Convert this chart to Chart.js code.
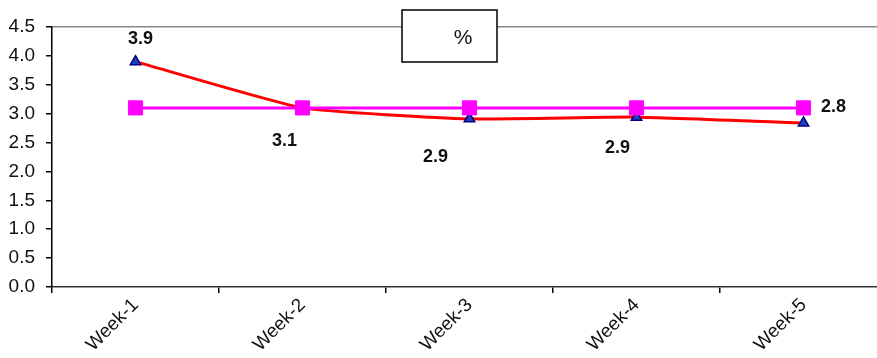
<!DOCTYPE html>
<html>
<head>
<meta charset="utf-8">
<script src="https://cdn.jsdelivr.net/npm/chart.js@4"></script>
<style>
  html, body { margin: 0; padding: 0; background: #fff; overflow: hidden; }
  canvas { display: block; }
</style>
</head>
<body>
<canvas id="weekChart" width="898" height="358"></canvas>
<script>
const weeks = ['Week-1', 'Week-2', 'Week-3', 'Week-4', 'Week-5'];
const actualValues = [3.9, 3.1, 2.91, 2.94, 2.84];
const targetValues = [3.1, 3.1, 3.1, 3.1, 3.1];
const pointLabels = ['3.9', '3.1', '2.9', '2.9', '2.8'];
const labelOffsets = [[5, -23], [-18, 33], [-34, 38], [-19, 31], [30, -16]];
const yTicks = [0, 0.5, 1, 1.5, 2, 2.5, 3, 3.5, 4, 4.5];

const extras = {
    id: 'extras',
    afterDatasetsDraw(chart) {
        const c = chart.ctx;
        const meta = chart.getDatasetMeta(1);
        c.save();
        c.fillStyle = '#111';
        c.font = 'bold 18px "Liberation Sans", Arial, sans-serif';
        c.textAlign = 'center';
        c.textBaseline = 'middle';
        meta.data.forEach((pt, i) => {
            c.fillText(pointLabels[i], pt.x + labelOffsets[i][0], pt.y + labelOffsets[i][1]);
        });
        // small "%" box at the top
        c.fillStyle = '#fff';
        c.fillRect(402, 10, 95, 52);
        c.lineWidth = 1.5;
        c.strokeStyle = '#000';
        c.strokeRect(402, 10, 95, 52);
        c.fillStyle = '#111';
        c.font = '21px "Liberation Sans", Arial, sans-serif';
        c.fillText('%', 463, 38);
        c.restore();
    }
};

new Chart(document.getElementById('weekChart'), {
    type: 'line',
    data: {
        labels: weeks,
        datasets: [{
            data: targetValues,
            borderColor: '#ff00ff',
            backgroundColor: '#ff00ff',
            borderWidth: 3,
            pointStyle: 'rect',
            pointRadius: 10,
            pointBorderWidth: 1,
            tension: 0,
            order: 0
        }, {
            data: actualValues,
            borderColor: '#ff0000',
            backgroundColor: '#1f3fbf',
            pointBorderColor: '#000080',
            borderWidth: 3,
            pointStyle: 'triangle',
            pointRadius: 6,
            pointBorderWidth: 1.5,
            tension: 0.15,
            order: 1
        }]
    },
    options: {
        responsive: false,
        animation: false,
        layout: { padding: { top: 27, right: 0, left: 0, bottom: 0 } },
        plugins: { legend: { display: false }, tooltip: { enabled: false } },
        scales: {
            x: {
                offset: true,
                afterFit: (s) => { s.height = 71; },
                grid: { offset: true, drawOnChartArea: false, tickLength: 6, tickColor: '#000', lineWidth: 1.5 },
                border: { color: '#333', width: 1.5 },
                ticks: {
                    minRotation: 45, maxRotation: 45, padding: 1,
                    color: '#111',
                    font: { family: '"Liberation Sans", Arial, sans-serif', size: 19 }
                }
            },
            y: {
                min: 0, max: 4.5,
                afterFit: (s) => { s.width = 52; },
                afterBuildTicks: (s) => { s.ticks = yTicks.map(v => ({ value: v })); },
                grid: {
                    color: (ctx) => ctx.tick && ctx.tick.value === 4.5 ? '#888' : 'rgba(0,0,0,0)',
                    tickColor: '#000', tickLength: 6, lineWidth: 1.5
                },
                border: { color: '#000', width: 1.5 },
                ticks: {
                    padding: 11,
                    color: '#111',
                    font: { family: '"Liberation Sans", Arial, sans-serif', size: 19 },
                    callback: (v) => Number(v).toFixed(1)
                }
            }
        }
    },
    plugins: [extras]
});
</script>
</body>
</html>
